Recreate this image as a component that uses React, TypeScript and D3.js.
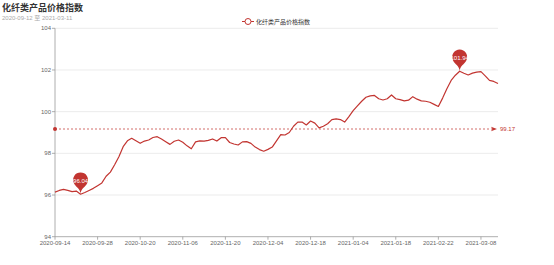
import React from "react";
import * as d3 from "d3";

const title = "化纤类产品价格指数";
const subtitle = "2020-09-12 至 2021-03-11";
const seriesName = "化纤类产品价格指数";

const dates: string[] = [
  "2020-09-14","2020-09-15","2020-09-16","2020-09-17","2020-09-18",
  "2020-09-21","2020-09-22","2020-09-23","2020-09-24","2020-09-25",
  "2020-09-28","2020-09-29","2020-09-30","2020-10-09","2020-10-12",
  "2020-10-13","2020-10-14","2020-10-15","2020-10-16","2020-10-19",
  "2020-10-20","2020-10-21","2020-10-22","2020-10-26","2020-10-27",
  "2020-10-28","2020-10-29","2020-11-02","2020-11-04","2020-11-05",
  "2020-11-06","2020-11-09","2020-11-10","2020-11-11","2020-11-12",
  "2020-11-13","2020-11-16","2020-11-17","2020-11-18","2020-11-19",
  "2020-11-20","2020-11-23","2020-11-24","2020-11-25","2020-11-26",
  "2020-11-27","2020-11-30","2020-12-01","2020-12-02","2020-12-03",
  "2020-12-04","2020-12-07","2020-12-08","2020-12-09","2020-12-10",
  "2020-12-11","2020-12-14","2020-12-15","2020-12-16","2020-12-17",
  "2020-12-18","2020-12-21","2020-12-22","2020-12-23","2020-12-24",
  "2020-12-25","2020-12-28","2020-12-29","2020-12-30","2020-12-31",
  "2021-01-04","2021-01-05","2021-01-06","2021-01-07","2021-01-08",
  "2021-01-11","2021-01-12","2021-01-13","2021-01-14","2021-01-15",
  "2021-01-18","2021-01-19","2021-01-20","2021-01-21","2021-01-22",
  "2021-01-25","2021-01-26","2021-01-27","2021-02-09","2021-02-19",
  "2021-02-22","2021-02-23","2021-02-24","2021-02-25","2021-02-26",
  "2021-03-01","2021-03-02","2021-03-03","2021-03-04","2021-03-05",
  "2021-03-08","2021-03-09","2021-03-10","2021-03-11","2021-03-12",
];

const values: number[] = [
  96.14, 96.22, 96.27, 96.22, 96.16, 96.19, 96.04, 96.12, 96.22, 96.32,
  96.45, 96.58, 96.90, 97.10, 97.45, 97.84, 98.32, 98.60, 98.72, 98.60,
  98.48, 98.59, 98.64, 98.76, 98.80, 98.69, 98.56, 98.43, 98.58, 98.64,
  98.53, 98.36, 98.22, 98.55, 98.60, 98.59, 98.62, 98.69, 98.59, 98.75,
  98.75, 98.52, 98.45, 98.40, 98.55, 98.56, 98.48, 98.30, 98.18, 98.10,
  98.19, 98.30, 98.60, 98.90, 98.88, 99.00, 99.30, 99.50, 99.50, 99.36,
  99.55, 99.45, 99.22, 99.30, 99.42, 99.62, 99.65, 99.62, 99.50, 99.76,
  100.05, 100.28, 100.50, 100.69, 100.76, 100.78, 100.62, 100.56, 100.62, 100.80,
  100.62, 100.58, 100.52, 100.55, 100.72, 100.60, 100.52, 100.50, 100.45, 100.35,
  100.25, 100.65, 101.10, 101.50, 101.75, 101.94, 101.84, 101.76, 101.85, 101.90,
  101.92, 101.72, 101.50, 101.45, 101.35,
];

const yTicks: number[] = [94, 96, 98, 100, 102, 104];
const labelEvery = 10;

const COLOR = "#c23531";
const FONT = "'Liberation Sans', 'Noto Sans CJK SC', sans-serif";

function pinPath(x: number, y: number, size: number): string {
  const w = (size / 5) * 3;
  const h = Math.max(w, size);
  const r = w / 2;
  const dy = (r * r) / (h - r);
  const cy = y - h + r + dy;
  const angle = Math.asin(dy / r);
  const dx = Math.cos(angle) * r;
  const tanX = Math.sin(angle);
  const tanY = Math.cos(angle);
  const cpLen = r * 0.6;
  const cpLen2 = r * 0.7;
  const p = d3.path();
  p.moveTo(x - dx, cy + dy);
  p.arc(x, cy, r, Math.PI - angle, Math.PI * 2 + angle);
  p.bezierCurveTo(x + dx - tanX * cpLen, cy + dy + tanY * cpLen, x, y - cpLen2, x, y);
  p.bezierCurveTo(x, y - cpLen2, x - dx + tanX * cpLen, cy + dy + tanY * cpLen, x - dx, cy + dy);
  p.closePath();
  return p.toString();
}

export default function App() {
  const W = 554, H = 265;
  const left = 55, right = 498, top = 28.3, bottom = 236.7;
  const x = d3.scalePoint<string>().domain(dates).range([left, right]);
  const y = d3.scaleLinear().domain([94, 104]).range([bottom, top]);
  const line = d3
    .line<number>()
    .x((_, i) => x(dates[i]) as number)
    .y((d) => y(d));
  const avg = d3.mean(values) as number;
  const maxI = d3.maxIndex(values);
  const minI = d3.minIndex(values);
  const ay = y(avg);
  const pins = [maxI, minI];

  return (
    <svg width={W} height={H} style={{ position: "absolute", left: 0, top: 0, fontFamily: FONT }}>
      <rect width={W} height={H} fill="#fff" />
      <text x={2} y={10.5} fontSize={9} fontWeight="bold" fill="#333">{title}</text>
      <text x={2} y={20} fontSize={6} fill="#aaa">{subtitle}</text>
      {/* legend */}
      <g>
        <line x1={242} x2={254} y1={21.5} y2={21.5} stroke={COLOR} strokeWidth={1} />
        <circle cx={248} cy={21.5} r={3} fill="#fff" stroke={COLOR} strokeWidth={1} />
        <text x={256} y={23.7} fontSize={6} fill="#333">{seriesName}</text>
      </g>
      {/* grid */}
      {yTicks.map((t) => (
        <g key={t}>
          {t !== 94 && (
            <line x1={left} x2={right} y1={y(t)} y2={y(t)} stroke="#e6e6e6" strokeWidth={0.8} />
          )}
          <line x1={left - 3} x2={left} y1={y(t)} y2={y(t)} stroke="#999" strokeWidth={0.8} />
          <text x={left - 4} y={y(t)} dy="0.35em" fontSize={6} fill="#666" textAnchor="end">{t}</text>
        </g>
      ))}
      <line x1={left} x2={left} y1={top} y2={bottom} stroke="#999" strokeWidth={0.8} />
      <line x1={left} x2={right} y1={bottom} y2={bottom} stroke="#999" strokeWidth={0.8} />
      {dates.map((d, i) =>
        i % labelEvery === 0 ? (
          <g key={d}>
            <line x1={x(d)} x2={x(d)} y1={bottom} y2={bottom + 3} stroke="#999" strokeWidth={0.8} />
            <text x={x(d)} y={244.5} fontSize={6} fill="#666" textAnchor="middle">{d}</text>
          </g>
        ) : null
      )}
      {/* series */}
      <path d={line(values) as string} fill="none" stroke={COLOR} strokeWidth={1.2} strokeLinejoin="round" />
      {/* mark line average */}
      <g>
        <line x1={left} x2={right - 5} y1={ay} y2={ay} stroke={COLOR} strokeWidth={0.9} strokeDasharray="2,2" opacity={0.8} />
        <circle cx={left} cy={ay} r={2} fill={COLOR} />
        <path d={`M${right - 7},${ay - 2.2} L${right - 1},${ay} L${right - 7},${ay + 2.2} L${right - 5.5},${ay} Z`} fill={COLOR} />
        <text x={right + 2} y={ay} dy="0.35em" fontSize={6} fill={COLOR}>{avg.toFixed(2)}</text>
      </g>
      {/* mark points */}
      {pins.map((i) => {
        const px = x(dates[i]) as number;
        const py = y(values[i]);
        return (
          <g key={i}>
            <path d={pinPath(px, py, 25)} fill={COLOR} />
            <text x={px} y={py - 13} dy="0.35em" fontSize={6} fill="#fff" textAnchor="middle">
              {values[i].toFixed(2)}
            </text>
          </g>
        );
      })}
    </svg>
  );
}
